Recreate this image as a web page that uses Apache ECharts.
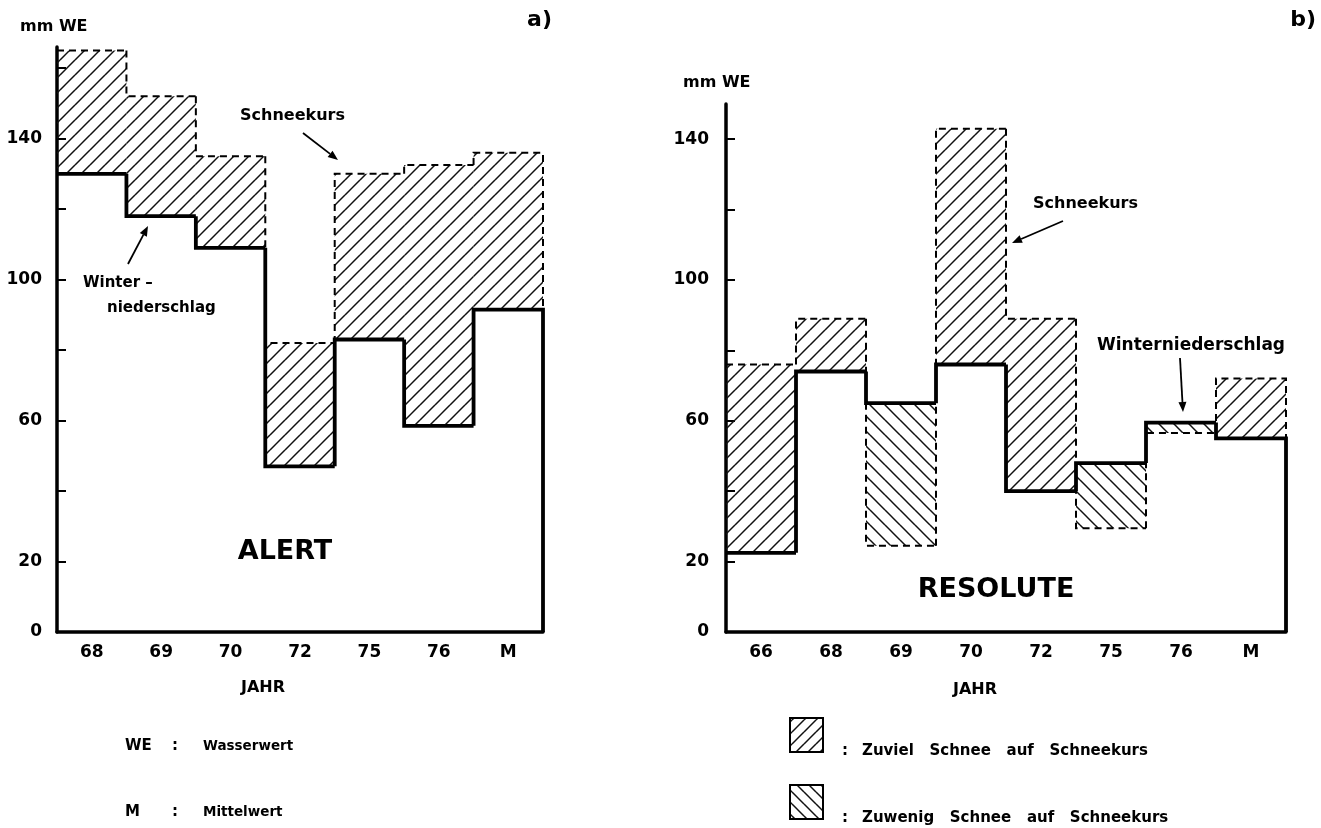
<!DOCTYPE html>
<html><head><meta charset="utf-8">
<script src="https://cdn.jsdelivr.net/npm/echarts@6/dist/echarts.min.js"></script>
<style>html,body{margin:0;padding:0;background:#fff}#c{width:1321px;height:828px}</style>
</head><body><div id="c"></div>
<script>
// ---- data ----
const alertYears = ['68','69','70','72','75','76','M'];
const alertWinter = [130,118,109,47,83,58.5,91.5];   // Winterniederschlag
const alertKurs   = [165,152,135,82,130,132.5,136];  // Schneekurs
const resYears = ['66','68','69','70','72','75','76','M'];
const resWinter = [22.5,74,65,76,40,48,59.5,55];
const resKurs   = [76,89,24.5,143,89,29.5,56.5,72];
const yLabelsA = [0,20,60,100,140];
const yTicksA  = [20,40,60,80,100,120,140,160];
const yLabelsB = [0,20,60,100,140];
const yTicksB  = [20,40,60,80,100,120,140];

const FONT = '"DejaVu Sans", "Liberation Sans", sans-serif';

function hatch(dir, w, h, lw){
  const c=document.createElement('canvas'); c.width=w; c.height=h;
  const g=c.getContext('2d'); g.strokeStyle='#111'; g.lineWidth=lw;
  for(const dx of [-w,0,w]) for(const dy of [-h,0,h]){
    g.beginPath();
    if(dir>0){g.moveTo(dx,dy+h);g.lineTo(dx+w,dy);} else {g.moveTo(dx,dy);g.lineTo(dx+w,dy+h);}
    g.stroke();
  }
  return c;
}
const patF = hatch(1,15,15,1.5), patB = hatch(-1,15,15,1.5);
const patFL = hatch(1,12,12,1.5), patBL = hatch(-1,12,12,1.5);

function hatchSeries(gi, winter, kurs){
  return {type:'custom', xAxisIndex:gi, yAxisIndex:gi, silent:true, z:1,
    data: winter.map((w,i)=>[i, w, kurs[i]]),
    renderItem(params, api){
      const i=api.value(0), w=api.value(1), k=api.value(2);
      const bw=api.size([1,0])[0];
      const p1=api.coord([i,w]), p2=api.coord([i,k]);
      const x=p1[0]-bw/2;
      const top=Math.min(p1[1],p2[1]), h=Math.abs(p1[1]-p2[1]);
      return {type:'rect', shape:{x:x, y:top, width:bw, height:h},
        style:{fill:{image: k>=w?patF:patB, repeat:'repeat'}}};
    }};
}
function stepSeries(gi, vals, endVal, solid){
  const n=vals.length;
  return {type:'custom', xAxisIndex:gi, yAxisIndex:gi, silent:true, z: solid?3:2,
    data: vals.map((v,i)=>[i, v, i>0?vals[i-1]:v, i===n-1?endVal:v]),
    renderItem(params, api){
      const i=api.value(0), v=api.value(1), pv=api.value(2), ev=api.value(3);
      const bw=api.size([1,0])[0];
      const c=api.coord([i,v]);
      const xl=c[0]-bw/2, xr=c[0]+bw/2;
      const yp=api.coord([i,pv])[1], ye=api.coord([i,ev])[1];
      const pts=[[xl,yp],[xl,c[1]],[xr,c[1]]];
      if(i===n-1) pts.push([xr,ye]);
      return {type:'polyline', shape:{points:pts},
        style: solid ? {stroke:'#000', lineWidth:3.8, fill:null, lineJoin:'miter'}
                     : {stroke:'#000', lineWidth:2, fill:null, lineDash:[7,5]}};
    }};
}

function xAx(gi, cats){
  return {gridIndex:gi, type:'category', data:cats, boundaryGap:true,
    axisLine:{lineStyle:{color:'#000',width:3.5}},
    axisTick:{inside:true,length:9,lineStyle:{width:2,color:'#000'}},
    axisLabel:{color:'#000',fontSize:17,fontWeight:'bold',margin:12,fontFamily:FONT}};
}
function yAx(gi, max, labels, ticks, margin){
  return {gridIndex:gi, type:'value', min:0, max:max,
    axisLine:{show:true,lineStyle:{color:'#000',width:3.5}},
    axisTick:{show:true,inside:true,length:9,customValues:ticks,lineStyle:{width:2,color:'#000'}},
    axisLabel:{customValues:labels,color:'#000',fontSize:17,fontWeight:'bold',margin:margin,fontFamily:FONT},
    splitLine:{show:false}};
}

function txt(x,y,s,size,align){
  return {type:'text', x:x, y:y, silent:true, z:10,
    style:{text:s, fill:'#000', font:'bold '+size+'px '+FONT, textAlign:align||'left', textVerticalAlign:'middle'}};
}
function arrow(x1,y1,x2,y2){
  const a=Math.atan2(y2-y1,x2-x1), L=10, W=4;
  const bx=x2-L*Math.cos(a), by=y2-L*Math.sin(a);
  const nx=-Math.sin(a)*W, ny=Math.cos(a)*W;
  return [
    {type:'line', silent:true, z:10, shape:{x1:x1,y1:y1,x2:bx,y2:by}, style:{stroke:'#000',lineWidth:1.8}},
    {type:'polygon', silent:true, z:10, shape:{points:[[x2,y2],[bx+nx,by+ny],[bx-nx,by-ny]]}, style:{fill:'#000'}}
  ];
}

const graphics = [
  txt(20,27,'mm WE',16), txt(552,20,'a)',22,'right'),
  txt(683,83,'mm WE',16), txt(1316,20,'b)',22,'right'),
  txt(240,116,'Schneekurs',16), ...arrow(303,133,338,160),
  txt(83,283,'Winter –',15), txt(107,308,'niederschlag',15), ...arrow(128,264,148,226),
  txt(285,552,'ALERT',27,'center'),
  txt(263,688,'JAHR',16,'center'),
  txt(125,746,'WE',15), txt(172,746,':',15), txt(203,746,'Wasserwert',13.5),
  txt(125,812,'M',15), txt(172,812,':',15), txt(203,812,'Mittelwert',13.5),
  txt(1033,204,'Schneekurs',16), ...arrow(1063,221,1012,243),
  txt(1097,346,'Winterniederschlag',17), ...arrow(1180,358,1183,412),
  txt(996,590,'RESOLUTE',27,'center'),
  txt(975,690,'JAHR',16,'center'),
  {type:'rect', silent:true, z:10, shape:{x:790,y:718,width:33,height:34}, style:{fill:{image:patFL,repeat:'repeat'}, stroke:'#000', lineWidth:2}},
  txt(842,751,':',15), txt(862,751,'Zuviel   Schnee   auf   Schneekurs',15),
  {type:'rect', silent:true, z:10, shape:{x:790,y:785,width:33,height:34}, style:{fill:{image:patBL,repeat:'repeat'}, stroke:'#000', lineWidth:2}},
  txt(842,818,':',15), txt(862,818,'Zuwenig   Schnee   auf   Schneekurs',15)
];

const chart = echarts.init(document.getElementById('c'), null, {renderer:'canvas'});
chart.setOption({
  backgroundColor:'#fff',
  animation:false,
  grid:[{left:57, top:47, width:486, height:585},{left:726, top:104, width:560, height:528}],
  xAxis:[xAx(0,alertYears), xAx(1,resYears)],
  yAxis:[yAx(0,166,yLabelsA,yTicksA,15), yAx(1,150,yLabelsB,yTicksB,17)],
  series:[
    hatchSeries(0, alertWinter, alertKurs),
    stepSeries(0, alertKurs, alertWinter[alertWinter.length-1], false),
    stepSeries(0, alertWinter, 0, true),
    hatchSeries(1, resWinter, resKurs),
    stepSeries(1, resKurs, resWinter[resWinter.length-1], false),
    stepSeries(1, resWinter, 0, true)
  ],
  graphic: graphics
});
</script></body></html>
